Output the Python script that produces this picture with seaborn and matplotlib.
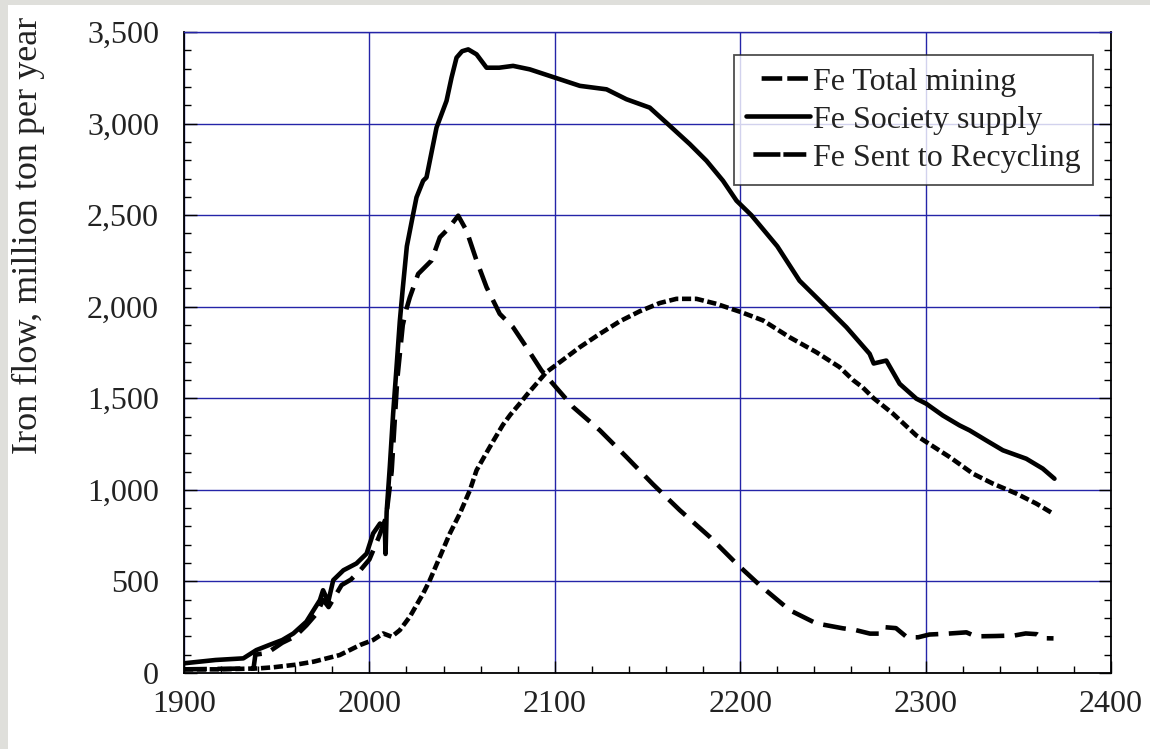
import numpy as np
import pandas as pd
import matplotlib
matplotlib.use("Agg")
import matplotlib.pyplot as plt
import matplotlib.ticker as mticker
from matplotlib.patches import Rectangle
import seaborn as sns

# ---------------- data ----------------
supply_years = [1900, 1917, 1932, 1939, 1946, 1953, 1959, 1966, 1971, 1973.3, 1975, 1977.8,
                1980.5, 1986, 1993, 1998.5, 2002, 2005.7, 2008.3, 2008.7, 2009.3, 2010, 2011,
                2012.8, 2014.5, 2016.4, 2018, 2020.2, 2023.6, 2025.4, 2029, 2030.8, 2036.2,
                2041.6, 2044.3, 2047, 2050, 2053.3, 2057.8, 2063.2, 2070, 2077.5, 2086.5, 2100,
                2113.5, 2127.9, 2138.6, 2151.2, 2162, 2172.8, 2181.8, 2190.7, 2198, 2206, 2220,
                2232, 2246.5, 2257.3, 2269.8, 2272, 2278.8, 2286, 2295, 2300.4, 2309.3, 2318.3,
                2323.7, 2332.7, 2341.7, 2354.3, 2363.2, 2369.5]
supply_vals = [53, 71, 80, 125, 153, 180, 216, 280, 361, 398, 452, 389,
               507, 561, 598, 652, 762, 816, 800, 650, 880, 980, 1125,
               1416, 1650, 1920, 2100, 2330, 2506, 2597, 2688, 2706, 2978,
               3124, 3251, 3360, 3395, 3405, 3378, 3305, 3305, 3315, 3296, 3251,
               3206, 3187, 3133, 3087, 2988, 2888, 2797, 2688, 2579, 2500, 2330,
               2142, 1997, 1888, 1743, 1690, 1706, 1579, 1498, 1470, 1406, 1352,
               1325, 1270, 1216, 1170, 1116, 1061]

mining_years = [1900, 1937.5, 1938.5, 1945, 1953, 1960, 1966, 1972, 1975, 1978, 1985, 1990,
                1995, 2000, 2005, 2009, 2012, 2015, 2018, 2020, 2021.8, 2026.3, 2033.5, 2038,
                2042, 2047.9, 2052.4, 2057.8, 2063.2, 2070.3, 2077.5, 2084.7, 2092.8, 2099,
                2109.9, 2124.3, 2138.6, 2153, 2167.4, 2183.6, 2197.9, 2210.5, 2226.7, 2241,
                2255.4, 2262, 2270, 2276, 2278, 2284, 2290, 2296, 2302, 2312, 2322, 2327,
                2338, 2348, 2354, 2360, 2363, 2369]
mining_vals = [20, 25, 100, 110, 165, 200, 260, 330, 400, 360, 480, 510,
               560, 620, 740, 850, 1100, 1600, 1900, 1988, 2051, 2179, 2252, 2379,
               2420, 2497, 2415, 2252, 2106, 1961, 1888, 1779, 1652, 1579,
               1452, 1325, 1180, 1030, 889, 743, 598, 480, 343, 271,
               244, 235, 215, 215, 250, 245, 195, 195, 210, 215, 222, 200,
               202, 205, 216, 212, 190, 189]

recyc_years = [1900, 1920, 1940, 1948, 1960, 1970, 1984, 1995, 2002, 2007.4, 2012, 2016.4,
               2021.8, 2029, 2032.6, 2038, 2043.4, 2048.8, 2054.2, 2057.8, 2063, 2067, 2072,
               2076, 2081, 2085, 2095.5, 2102.7, 2113.5, 2124.3, 2135, 2145.8, 2156.6, 2165.6,
               2176.4, 2187.1, 2200.6, 2212.3, 2226.7, 2241, 2253.6, 2260.8, 2266, 2272,
               2282.4, 2295, 2300.4, 2313, 2325.6, 2336.3, 2348.9, 2359.7, 2367.8]
recyc_vals = [20, 20, 25, 31, 45, 62, 98, 153, 180, 216, 198, 234,
              307, 434, 507, 634, 762, 871, 998, 1107, 1200, 1270, 1355,
              1410, 1470, 1520, 1643, 1697, 1779, 1852, 1920, 1975, 2020, 2043,
              2043, 2016, 1970, 1925, 1833, 1752, 1670, 1600, 1560, 1500,
              1416, 1297, 1261, 1179, 1088, 1034, 980, 925, 876]

labels = ["Fe Total mining", "Fe Society supply", "Fe Sent to Recycling"]
x_ticks = [1900, 2000, 2100, 2200, 2300, 2400]
y_ticks = [0, 500, 1000, 1500, 2000, 2500, 3000, 3500]

# ---------------- figure ----------------
sns.set_theme(style="white")
plt.rcParams["font.family"] = ["Liberation Serif", "DejaVu Serif"]

fig = plt.figure(figsize=(11.5, 7.49), dpi=100)
fig.patch.set_facecolor("#dfdfdb")
fig.patches.append(Rectangle((8 / 1150, 0), 1, 1 - 5 / 749, transform=fig.transFigure,
                             facecolor="white", edgecolor="none", zorder=-10))
ax = fig.add_axes([184 / 1150, 1 - 673 / 749, (1111 - 184) / 1150, (673 - 32) / 749])
ax.set_facecolor("white")

grid_blue = "#2424a8"
lw = 3.3
sns.lineplot(x=mining_years, y=mining_vals, ax=ax, color="black", lw=lw,
             linestyle=(0, (5, 2.3)), label=labels[0], sort=False)
sns.lineplot(x=supply_years, y=supply_vals, ax=ax, color="black", lw=lw,
             linestyle="-", label=labels[1], sort=False)
sns.lineplot(x=recyc_years, y=recyc_vals, ax=ax, color="black", lw=lw,
             linestyle=(0, (2.0, 0.8)), label=labels[2], sort=False)

ax.set_xlim(1900, 2400)
ax.set_ylim(0, 3500)
ax.set_xticks(x_ticks)
ax.set_yticks(y_ticks)
ax.xaxis.set_minor_locator(mticker.MultipleLocator(20))
ax.yaxis.set_minor_locator(mticker.MultipleLocator(100))
ax.yaxis.set_major_formatter(mticker.FuncFormatter(lambda v, p: f"{int(v):,}"))
ax.grid(True, which="major", color=grid_blue, lw=1.0)
ax.set_axisbelow(True)

ax.tick_params(axis="both", which="both", direction="in", colors="black",
               bottom=True, left=True, right=True, top=False, labelsize=23)
ax.tick_params(axis="both", which="major", length=9, width=1.0)
ax.tick_params(axis="both", which="minor", length=5, width=1.0)
ax.tick_params(axis="x", which="major", pad=12)
ax.tick_params(axis="y", which="major", pad=18)
for lab in ax.get_xticklabels() + ax.get_yticklabels():
    lab.set_color("#222222")

for s in ["left", "bottom", "right"]:
    ax.spines[s].set_color("black")
    ax.spines[s].set_linewidth(1.3)
ax.spines["top"].set_color(grid_blue)
ax.spines["top"].set_linewidth(1.0)

ax.set_xlabel("")
ax.set_ylabel("")
fig.text(28 / 1150, 1 - 235 / 749, "Iron flow, million ton per year", rotation=90,
         ha="center", va="center", fontsize=26, color="#222222")

leg = ax.legend(loc="upper right", bbox_to_anchor=(0.9806, 0.964), borderaxespad=0,
                fontsize=23, frameon=True, fancybox=False, edgecolor="#222222",
                handlelength=2.0, handletextpad=0.1, labelspacing=0.27, borderpad=0.38)
leg.get_frame().set_linewidth(1.3)
leg_lines = leg.get_lines()
leg_lines[0].set_linestyle((10.1, (4.5, 1.1, 4.5, 3.3)))
leg_lines[2].set_linestyle((11.55, (5.9, 0.65, 5.0, 1.5)))
for t in leg.get_texts():
    t.set_color("#222222")

fig.savefig("out.png", dpi=100, facecolor=fig.get_facecolor())
